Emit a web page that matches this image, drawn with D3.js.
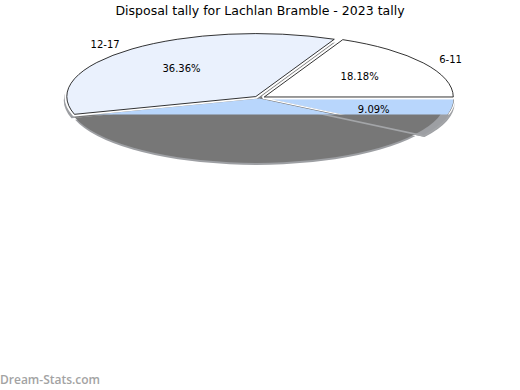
<!DOCTYPE html>
<html>
<head>
<meta charset="utf-8">
<script src="https://cdn.jsdelivr.net/npm/d3@7/dist/d3.min.js"></script>
<style>
  html, body { margin: 0; padding: 0; background: #fff; }
  svg { display: block; font-family: "DejaVu Sans", sans-serif; }
</style>
</head>
<body>
<div id="chart"></div>
<script>
// slices in drawing order (counter-clockwise from 3 o'clock, like the original)
const categories = ["6-11", "12-17", null, null];
const tallies    = [2, 4, 4, 1];
const faceColors = ["#ffffff", "#eaf1fd", "#b8d6fc", "#b8d6fc"];
const explode    = [0.03, 0.03, 0, 0.03];
const title = "Disposal tally for Lachlan Bramble - 2023 tally";

const W = 520, H = 390;
const cx = 259.5, cy = 98, rx = 189, ry = 63;
const cutY = 114.5; // below this line only the grey shadow shows

const svg = d3.select("#chart").append("svg").attr("width", W).attr("height", H);
const defs = svg.append("defs");
defs.append("clipPath").attr("id", "topPart")
  .append("rect").attr("x", 0).attr("y", 0).attr("width", W).attr("height", cutY);
defs.append("clipPath").attr("id", "lowPart")
  .append("rect").attr("x", 0).attr("y", cutY).attr("width", W).attr("height", H - cutY);
defs.append("clipPath").attr("id", "textPart")
  .append("rect").attr("x", 0).attr("y", 0).attr("width", W).attr("height", 115);

const total = d3.sum(tallies);
const pct = d3.format(".2%");

const pie = d3.pie().sort(null)
  .startAngle(Math.PI / 2).endAngle(Math.PI / 2 - 2 * Math.PI);
const slices = pie(tallies);
const arc = d3.arc().innerRadius(0).outerRadius(rx);

// mid angle in the usual math sense (radians, ccw from +x)
const mid = d => Math.PI / 2 - (d.startAngle + d.endAngle) / 2;
const shift = (d, e) => `translate(${Math.cos(mid(d)) * e * rx},${-Math.sin(mid(d)) * e * rx})`;

// squashed ellipse pie at an offset
function pieGroup(parent, dx, dy) {
  return parent.append("g")
    .attr("transform", `translate(${cx + dx},${cy + dy}) scale(1,${ry / rx})`);
}

// 1. light shadow (rim)
const gLight = pieGroup(svg, -3, 4);
gLight.selectAll("path").data(slices).join("path")
  .attr("transform", (d, i) => shift(d, i === 3 ? 0.05 : explode[i]))
  .attr("d", arc).attr("fill", "#9d9fa3");

// 2. dark shadow
const gDark = pieGroup(svg, -3, 2);
gDark.selectAll("path").data(slices).join("path")
  .attr("d", arc).attr("fill", "#777777");

// lighter edge of the small slice over the dark area
const gLowEdge = pieGroup(svg.append("g").attr("clip-path", "url(#lowPart)"), -3, 3);
gLowEdge.append("path").datum(slices[3])
  .attr("transform", d => shift(d, 0.045))
  .attr("d", arc).attr("fill", "none")
  .attr("stroke", "#a3a5a8").attr("stroke-width", 1.6)
  .attr("vector-effect", "non-scaling-stroke");

// 3. upper band of the lower slices
const gBand = pieGroup(svg.append("g").attr("clip-path", "url(#topPart)"), 0, 0);
gBand.selectAll("path").data(slices.filter((d, i) => i >= 2)).join("path")
  .attr("transform", d => shift(d, explode[d.index]))
  .attr("d", arc)
  .attr("fill", d => faceColors[d.index])
  .attr("stroke", "#7a7a7a").attr("stroke-width", 1)
  .attr("vector-effect", "non-scaling-stroke");
gBand.append("path").datum(slices[3])
  .attr("transform", d => shift(d, explode[3] + 0.004))
  .attr("d", arc).attr("fill", "none")
  .attr("stroke", "#ffffff").attr("stroke-width", 1.2)
  .attr("vector-effect", "non-scaling-stroke");

// 4. upper slices with a white gap and thin black edge
const gTop = pieGroup(svg, 0, 0);
const upper = slices.filter((d, i) => i < 2);
gTop.selectAll("path.gap").data(upper).join("path").attr("class", "gap")
  .attr("transform", d => shift(d, explode[d.index]))
  .attr("d", arc).attr("fill", "#fff")
  .attr("stroke", "#fff").attr("stroke-width", 4.5)
  .attr("stroke-linejoin", "round")
  .attr("vector-effect", "non-scaling-stroke");
gTop.selectAll("path.face").data(upper).join("path").attr("class", "face")
  .attr("transform", d => shift(d, explode[d.index]))
  .attr("d", arc).attr("fill", d => faceColors[d.index])
  .attr("stroke", "#000").attr("stroke-width", 0.8)
  .attr("vector-effect", "non-scaling-stroke");

// 5. labels (category at 1.1 r, percentage at 0.6 r)
const gText = svg.append("g").attr("clip-path", "url(#textPart)")
  .attr("font-size", 10).attr("fill", "#000");
const pos = (d, f) => {
  const a = mid(d), e = explode[d.index];
  return [cx + Math.cos(a) * (f + e) * rx, cy - Math.sin(a) * (f + e) * ry];
};
gText.selectAll("text.cat").data(slices.filter(d => categories[d.index])).join("text")
  .attr("class", "cat")
  .attr("x", d => pos(d, 1.1)[0]).attr("y", d => pos(d, 1.1)[1])
  .attr("text-anchor", d => Math.cos(mid(d)) < 0 ? "end" : "start")
  .attr("dominant-baseline", "central")
  .text(d => categories[d.index]);
gText.selectAll("text.pct").data(slices).join("text")
  .attr("class", "pct")
  .attr("x", d => pos(d, 0.6)[0]).attr("y", d => pos(d, 0.6)[1])
  .attr("text-anchor", "middle").attr("dominant-baseline", "central")
  .text(d => pct(d.value / total));

svg.append("text").attr("x", 260).attr("y", 15)
  .attr("text-anchor", "middle").attr("font-size", 12.5).attr("fill", "#000")
  .text(title);

svg.append("text").attr("x", 0).attr("y", 384)
  .attr("font-family", "'Open Sans', sans-serif").attr("font-weight", 600)
  .attr("font-size", 12).attr("fill", "#a3a3a3")
  .text("Dream-Stats.com");
</script>
</body>
</html>
